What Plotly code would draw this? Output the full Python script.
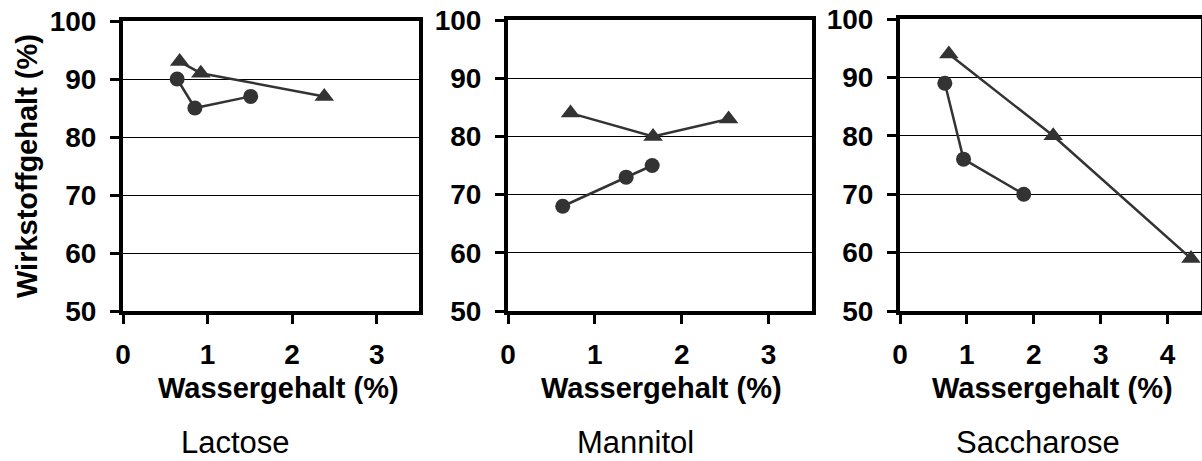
import plotly.graph_objects as go

# Panel names shown beneath each chart
panels = ["Lactose", "Mannitol", "Saccharose"]

# Water content (%) and drug content (%) per excipient; circles and triangles series
lac_circ_x = [0.64, 0.85, 1.51]
lac_circ_y = [90, 85, 87]
lac_tri_x = [0.67, 0.92, 2.38]
lac_tri_y = [93, 91, 87]

man_circ_x = [0.63, 1.36, 1.66]
man_circ_y = [68, 73, 75]
man_tri_x = [0.72, 1.67, 2.54]
man_tri_y = [84, 80, 83]

sac_circ_x = [0.67, 0.95, 1.85]
sac_circ_y = [89, 76, 70]
sac_tri_x = [0.73, 2.29, 4.35]
sac_tri_y = [94, 80, 59]

x_ranges = [[0, 3.5], [0, 3.5], [0, 4.5]]
x_ticks = [[0, 1, 2, 3], [0, 1, 2, 3], [0, 1, 2, 3, 4]]
y_ticks = [50, 60, 70, 80, 90, 100]

x_title = "Wassergehalt (%)"
y_title = "Wirkstoffgehalt (%)"

W, H = 1202, 461
# plot-area pixel boxes: (left, right, top, bottom)
boxes = [(123, 419, 21, 311), (508, 812, 20, 311), (900, 1201, 19, 311)]
caption_x = [235, 635, 1038]
xtitle_x = [278, 661, 1052]

MARK = "#333333"
FONT = "Liberation Sans, Arial, sans-serif"

series = [
    (lac_circ_x, lac_circ_y, lac_tri_x, lac_tri_y),
    (man_circ_x, man_circ_y, man_tri_x, man_tri_y),
    (sac_circ_x, sac_circ_y, sac_tri_x, sac_tri_y),
]

fig = go.Figure()
layout = {}
annotations = []

for i, (cx, cy, tx, ty) in enumerate(series):
    n = "" if i == 0 else str(i + 1)
    xa, ya = "x" + n, "y" + n
    for xs, ys, sym, size in [(cx, cy, "circle", 15), (tx, ty, "triangle-up", 17)]:
        fig.add_trace(go.Scatter(
            x=xs, y=ys, xaxis=xa, yaxis=ya, mode="lines+markers",
            line=dict(color=MARK, width=2.5),
            marker=dict(symbol=sym, size=size, color=MARK),
            showlegend=False, cliponaxis=False,
        ))
    l, r, t, b = boxes[i]
    layout["xaxis" + n] = dict(
        domain=[l / W, r / W], range=x_ranges[i], anchor=ya, automargin=False,
        tickmode="array", tickvals=x_ticks[i],
        ticks="outside", ticklen=9, tickwidth=3, tickcolor="black",
        ticklabelstandoff=6,
        showline=True, linewidth=4, linecolor="black", mirror=True,
        showgrid=False, zeroline=False,
        tickfont=dict(family=FONT, size=28, color="black", weight="bold"),
    )
    layout["yaxis" + n] = dict(
        domain=[(H - b) / H, (H - t) / H], range=[50, 100], anchor=xa, automargin=False,
        tickmode="array", tickvals=y_ticks,
        ticks="outside", ticklen=9, tickwidth=3, tickcolor="black",
        ticklabelstandoff=8,
        showline=True, linewidth=4, linecolor="black", mirror=True,
        showgrid=True, gridcolor="black", gridwidth=1, zeroline=False,
        tickfont=dict(family=FONT, size=28, color="black", weight="bold"),
    )
    annotations.append(dict(
        text=x_title, xref="paper", yref="paper",
        x=xtitle_x[i] / W, y=(H - 388) / H, xanchor="center", yanchor="middle",
        showarrow=False, font=dict(family=FONT, size=29, color="black", weight="bold"),
    ))
    annotations.append(dict(
        text=panels[i], xref="paper", yref="paper",
        x=caption_x[i] / W, y=(H - 442) / H, xanchor="center", yanchor="middle",
        showarrow=False, font=dict(family=FONT, size=31, color="black"),
    ))

annotations.append(dict(
    text=y_title, xref="paper", yref="paper", textangle=-90,
    x=27 / W, y=(H - 166) / H, xanchor="center", yanchor="middle",
    showarrow=False, font=dict(family=FONT, size=29, color="black", weight="bold"),
))

fig.update_layout(
    width=W, height=H, margin=dict(l=0, r=0, t=0, b=0),
    paper_bgcolor="white", plot_bgcolor="white",
    annotations=annotations, **layout,
)

fig.write_html("out.html")
